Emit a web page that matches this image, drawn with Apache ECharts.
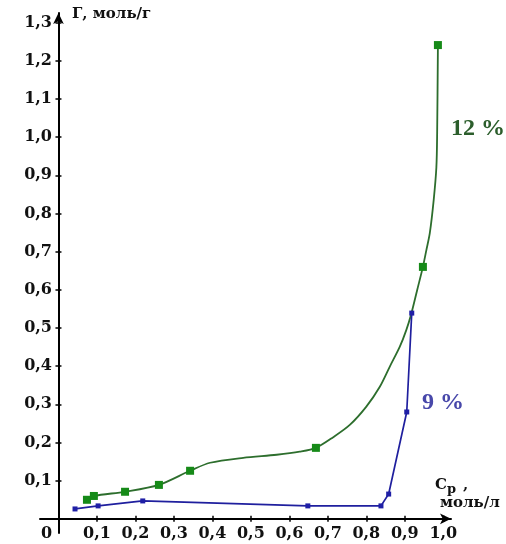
<!DOCTYPE html>
<html>
<head>
<meta charset="utf-8">
<script src="https://cdn.jsdelivr.net/npm/echarts@6/dist/echarts.min.js"></script>
<style>html,body{margin:0;padding:0;background:#fff}#c{width:506px;height:544px}</style>
</head>
<body>
<div id="c"></div>
<script>
// tick values and labels
const xTicks = [0, 0.1, 0.2, 0.3, 0.4, 0.5, 0.6, 0.7, 0.8, 0.9, 1.0];
const xTickLabels = ['0', '0,1', '0,2', '0,3', '0,4', '0,5', '0,6', '0,7', '0,8', '0,9', '1,0'];
const xTickMarks = [0.1, 0.2, 0.3, 0.4, 0.5, 0.6, 0.7, 0.8, 0.9, 1.0];
const yTicks = [0.1, 0.2, 0.3, 0.4, 0.5, 0.6, 0.7, 0.8, 0.9, 1.0, 1.1, 1.2, 1.3];
const yTickLabels = ['0,1', '0,2', '0,3', '0,4', '0,5', '0,6', '0,7', '0,8', '0,9', '1,0', '1,1', '1,2', '1,3'];

// 12 % : measured points (markers)
const c12x = [0.074, 0.092, 0.173, 0.261, 0.342, 0.669, 0.947, 0.986];
const c12y = [0.050, 0.060, 0.071, 0.089, 0.126, 0.186, 0.660, 1.241];
// 12 % : drawn curve
const curve12x = [0.074, 0.092, 0.173, 0.261, 0.342, 0.394, 0.480, 0.567, 0.627, 0.669, 0.714, 0.757, 0.800, 0.835, 0.861, 0.887, 0.904, 0.917, 0.932, 0.947, 0.956, 0.965, 0.975, 0.982, 0.984, 0.986];
const curve12y = [0.050, 0.060, 0.071, 0.089, 0.126, 0.147, 0.160, 0.168, 0.176, 0.186, 0.214, 0.246, 0.294, 0.346, 0.399, 0.451, 0.495, 0.538, 0.599, 0.660, 0.704, 0.749, 0.835, 0.921, 1.010, 1.241];

// 9 % : measured points
const c9x = [0.043, 0.103, 0.219, 0.648, 0.838, 0.858, 0.905, 0.918];
const c9y = [0.026, 0.034, 0.047, 0.034, 0.034, 0.065, 0.280, 0.539];

const zip = (a, b) => a.map((v, i) => [v, b[i]]);
const labelOf = (ticks, labels, v) => {
  const i = ticks.findIndex(t => Math.abs(t - v) < 1e-6);
  return i < 0 ? '' : labels[i];
};

const tickFont = { fontFamily: 'DejaVu Serif', fontWeight: 'bold', fontSize: 16, color: '#111' };
const XMIN = -0.048, XMAX = 1.02, YMIN = -0.037, YMAX = 1.325;

const chart = echarts.init(document.getElementById('c'), null, { renderer: 'canvas' });
chart.setOption({
  animation: false,
  backgroundColor: '#fff',
  grid: { left: 40, right: 55, top: 13, bottom: 11, containLabel: false, outerBoundsMode: 'none' },
  xAxis: [{
    type: 'value', min: XMIN, max: XMAX, position: 'bottom',
    axisLine: { show: true, onZero: true, symbol: ['none', 'arrow'], symbolSize: [8, 11], lineStyle: { color: '#000', width: 2 } },
    axisTick: { show: true, inside: false, length: 3, customValues: xTickMarks, lineStyle: { color: '#000', width: 1.5 } },
    axisLabel: {
      show: true, margin: -7, customValues: xTicks, ...tickFont,
      formatter: v => Math.abs(v) < 1e-6 ? '{z|0}' : labelOf(xTicks, xTickLabels, v),
      rich: { z: { ...tickFont, padding: [0, 24, 0, 0] } }
    },
    splitLine: { show: false }
  }, {
    type: 'value', min: XMIN, max: XMAX, position: 'top',
    axisLine: { show: false, onZero: true },
    axisTick: { show: true, inside: false, length: 3, customValues: xTickMarks, lineStyle: { color: '#000', width: 1.5 } },
    axisLabel: { show: false },
    splitLine: { show: false }
  }],
  yAxis: [{
    type: 'value', min: YMIN, max: YMAX, position: 'left',
    axisLine: { show: true, onZero: true, symbol: ['none', 'arrow'], symbolSize: [8, 11], lineStyle: { color: '#000', width: 2 } },
    axisTick: { show: true, inside: false, length: 3, customValues: yTicks, lineStyle: { color: '#000', width: 1.5 } },
    axisLabel: {
      show: true, margin: -12, customValues: yTicks, ...tickFont,
      formatter: v => labelOf(yTicks, yTickLabels, v)
    },
    splitLine: { show: false }
  }, {
    type: 'value', min: YMIN, max: YMAX, position: 'right',
    axisLine: { show: false, onZero: true },
    axisTick: { show: true, inside: false, length: 3, customValues: yTicks, lineStyle: { color: '#000', width: 1.5 } },
    axisLabel: { show: false },
    splitLine: { show: false }
  }],
  series: [{
    name: '12 % curve', type: 'line', xAxisIndex: 0, yAxisIndex: 0,
    data: zip(curve12x, curve12y), smooth: 0.3, showSymbol: false, symbol: 'none',
    lineStyle: { color: '#2d6e2d', width: 1.8 }, z: 3
  }, {
    name: '12 %', type: 'scatter', xAxisIndex: 0, yAxisIndex: 0,
    data: zip(c12x, c12y), symbol: 'rect', symbolSize: 8,
    itemStyle: { color: '#168a18', opacity: 1 }, z: 5
  }, {
    name: '9 %', type: 'line', xAxisIndex: 0, yAxisIndex: 0,
    data: zip(c9x, c9y), smooth: false, symbol: 'rect', symbolSize: 5, showSymbol: true,
    lineStyle: { color: '#1f1f9e', width: 1.7 }, itemStyle: { color: '#1f1fa6', opacity: 1 }, z: 4
  }],
  graphic: [
    { type: 'text', x: 72, y: 14, style: { text: 'Г, моль/г', font: 'bold 15px "DejaVu Serif"', fill: '#111', verticalAlign: 'middle', align: 'left' } },
    { type: 'text', x: 435, y: 485, style: { text: 'C', font: 'bold 15px "DejaVu Serif"', fill: '#111', verticalAlign: 'middle', align: 'left' } },
    { type: 'text', x: 447, y: 490, style: { text: 'р', font: 'bold 13px "DejaVu Serif"', fill: '#111', verticalAlign: 'middle', align: 'left' } },
    { type: 'text', x: 463, y: 485, style: { text: ',', font: 'bold 15px "DejaVu Serif"', fill: '#111', verticalAlign: 'middle', align: 'left' } },
    { type: 'text', x: 440, y: 503, style: { text: 'моль/л', font: 'bold 15px "DejaVu Serif"', fill: '#111', verticalAlign: 'middle', align: 'left' } },
    { type: 'text', x: 451, y: 129, style: { text: '12 %', font: 'bold 24px "Liberation Serif"', fill: '#2c5e2c', verticalAlign: 'middle', align: 'left' } },
    { type: 'text', x: 422, y: 403, style: { text: '9 %', font: 'bold 24px "Liberation Serif"', fill: '#4848aa', verticalAlign: 'middle', align: 'left' } }
  ]
});
</script>
</body>
</html>
